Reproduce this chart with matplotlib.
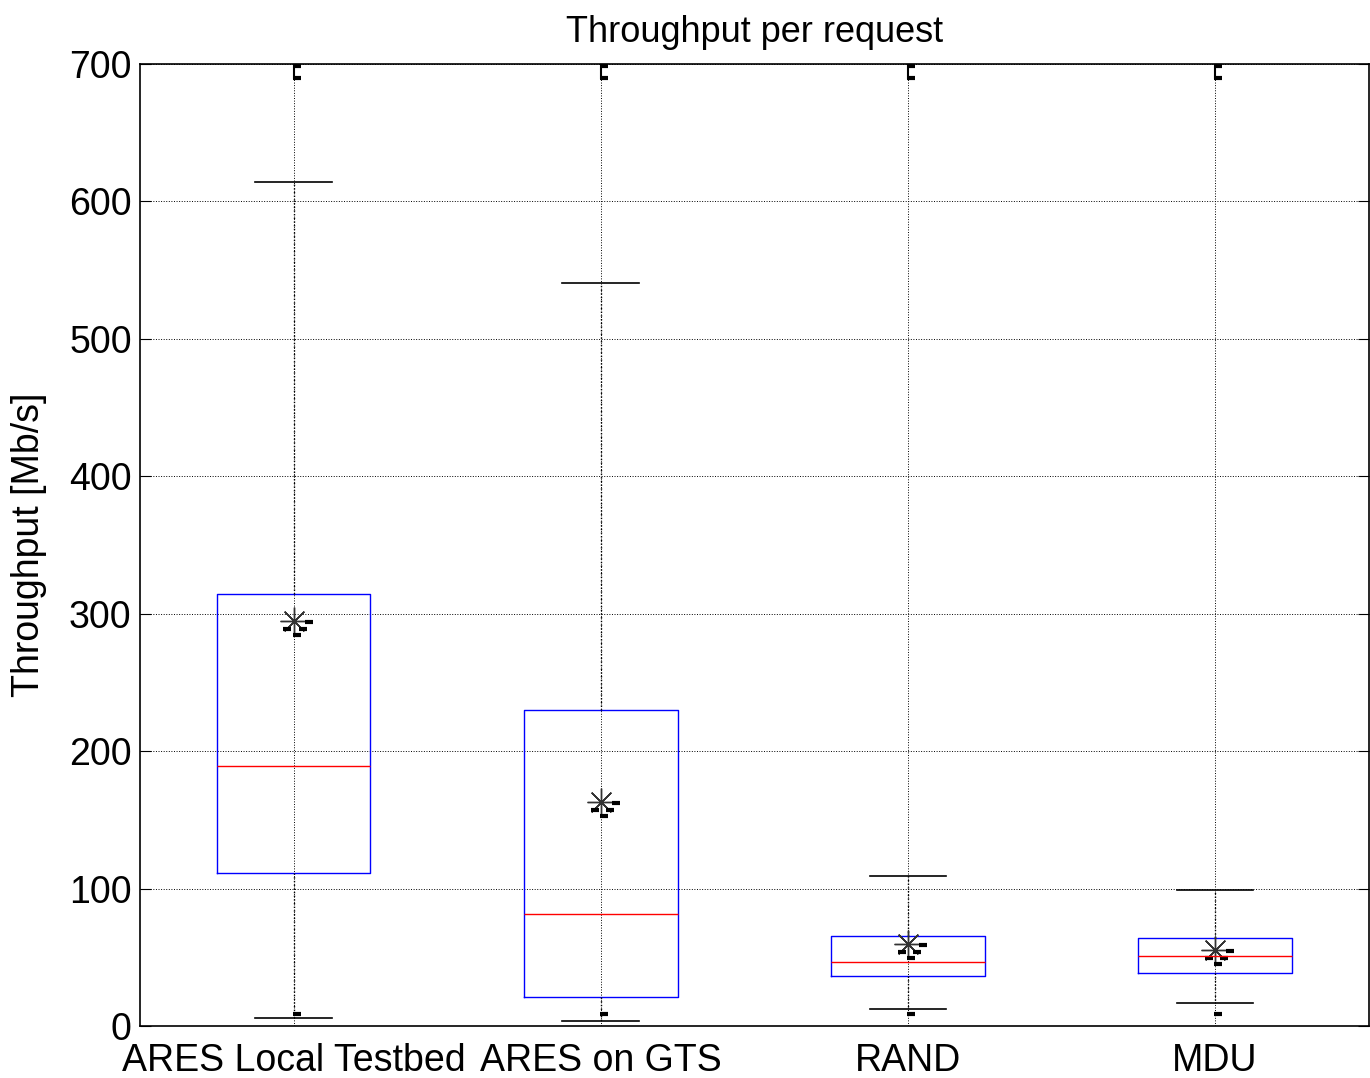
import matplotlib.pyplot as plt

# dados (Mb/s)
labels = ['ARES Local Testbed', 'ARES on GTS', 'RAND', 'MDU']
q1 = [111.4, 21.1, 36.4, 38.6]
medians = [189.2, 81.5, 46.6, 51.0]
q3 = [314.4, 230.0, 65.5, 64.0]
whislo = [5.8, 3.6, 12.4, 16.7]
whishi = [614.3, 540.8, 109.2, 99.0]
means = [294.8, 163.0, 59.7, 55.3]


def plot_boxes():
    plt.rcParams['font.family'] = ['Liberation Sans', 'DejaVu Sans']
    fig = plt.figure(figsize=(13.7, 10.78), dpi=100)
    ax = fig.add_axes([0.1022, 0.0482, 0.8968, 0.8924])

    stats = []
    for i in range(len(labels)):
        stats.append({'label': labels[i], 'q1': q1[i], 'med': medians[i],
                      'q3': q3[i], 'whislo': whislo[i], 'whishi': whishi[i],
                      'fliers': []})

    pos = list(range(1, len(labels) + 1))
    ax.bxp(stats, positions=pos, widths=0.5, showfliers=False,
           boxprops=dict(color='blue', linewidth=1),
           medianprops=dict(color='red', linewidth=1),
           whiskerprops=dict(color='black', linewidth=1, linestyle=':'),
           capprops=dict(color='black', linewidth=1.2), capwidths=0.25)

    # media (asterisco estilo matlab)
    ax.plot(pos, means, linestyle='none', marker=(8, 2, 0), markersize=20,
            color='#333333', markeredgewidth=1)
    mk = dict(linestyle='none', marker='_', markersize=6, markeredgewidth=3,
              color='black', clip_on=False)
    ax.plot([p + 0.05 for p in pos], [m - 1 for m in means], **mk)
    ax.plot([p - 0.02 for p in pos], [m - 6 for m in means], **mk)
    ax.plot([p + 0.03 for p in pos], [m - 6 for m in means], **mk)
    ax.plot([p + 0.01 for p in pos], [m - 10 for m in means], **mk)

    # marquinhas no topo e embaixo (artefatos do matlab)
    for p in pos:
        ax.plot([p, p], [690, 699], color='black', linewidth=1.5)
    ax.plot([p + 0.01 for p in pos], [698.5] * len(pos), **mk)
    ax.plot([p + 0.01 for p in pos], [690] * len(pos), **mk)
    ax.plot([p + 0.01 for p in pos], [9] * len(pos), **mk)

    ax.set_xlim(0.5, 4.5)
    ax.set_ylim(0, 700)
    ax.set_yticks(range(0, 701, 100))
    ax.set_xticks(pos)
    ax.set_xticklabels(labels)
    ax.tick_params(axis='both', direction='in', labelsize=27, length=8,
                   top=False, right=True)
    ax.tick_params(axis='y', pad=6)
    ax.tick_params(axis='x', length=0, pad=12)
    ax.grid(True, color='black', linestyle=':', linewidth=0.7)
    ax.set_axisbelow(True)
    for s in ax.spines.values():
        s.set_linewidth(1.2)

    ax.set_title('Throughput per request', fontsize=26, pad=16)
    ax.set_ylabel('Throughput [Mb/s]', fontsize=27, labelpad=16)

    fig.savefig('out.png', dpi=100)


def main():
    plot_boxes()


if __name__ == "__main__":
    main()
